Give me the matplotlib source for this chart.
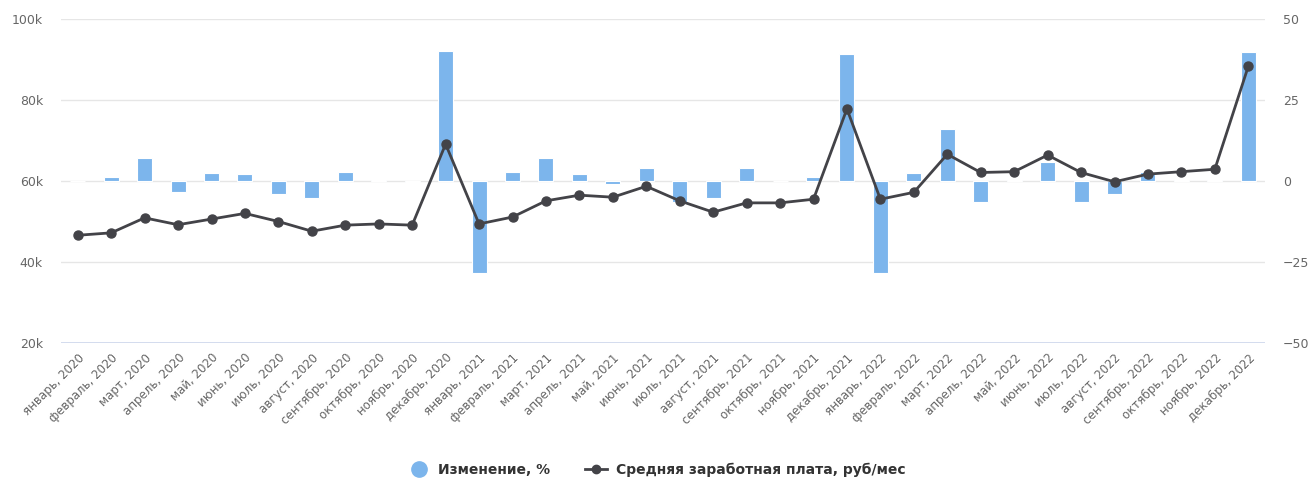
import matplotlib.pyplot as plt
from matplotlib.lines import Line2D
import numpy as np

months = ["январь", "февраль", "март", "апрель", "май", "июнь", "июль",
          "август", "сентябрь", "октябрь", "ноябрь", "декабрь"]
years = [2020, 2021, 2022]
labels = [f"{m}, {y}" for y in years for m in months]

# средняя зарплата, тыс. руб/мес
salary = [46.6, 47.2, 50.9, 49.2, 50.6, 52.0, 50.0, 47.6, 49.1, 49.4, 49.1, 69.1,
          49.4, 51.1, 55.1, 56.5, 56.0, 58.7, 55.1, 52.3, 54.6, 54.6, 55.5, 77.8,
          55.5, 57.2, 66.6, 62.1, 62.3, 66.4, 62.1, 59.8, 61.7, 62.3, 62.9, 88.3]
# изменение к предыдущему месяцу, %
change = [0.0, 1.2, 7.1, -3.3, 2.6, 2.2, -3.9, -5.1, 2.9, 0.3, -0.3, 40.0,
          -28.5, 2.9, 7.1, 2.2, -0.8, 4.0, -6.4, -5.1, 4.0, 0.0, 1.3, 39.3,
          -28.5, 2.6, 16.0, -6.6, 0.3, 6.0, -6.6, -3.9, 2.9, 0.4, 0.4, 39.7]

BAR = "#7cb5ec"
LINE = "#434348"
TXT = "#666666"

fig = plt.figure(figsize=(13.13, 4.8), dpi=100)
ax2 = fig.add_axes([61 / 1313, 137 / 480, 1204 / 1313, 324 / 480])
ax = ax2.twinx()

x = np.arange(len(labels))

# столбцы: правая ось
ax2.bar(x, change, width=0.45, color=BAR, edgecolor="white", linewidth=0.8, zorder=2)
ax2.set_ylim(-50, 50)
ax2.set_yticks([-50, -25, 0, 25, 50])
ax2.yaxis.tick_right()
ax2.set_xlim(-0.5, len(labels) - 0.5)

# линия: левая ось
ax.plot(x, [v * 1000 for v in salary], color=LINE, lw=2, marker="o", ms=6.5, zorder=3)
ax.set_ylim(20000, 100000)
ax.set_yticks([20000, 40000, 60000, 80000, 100000])
ax.set_yticklabels(["20k", "40k", "60k", "80k", "100k"])
ax.yaxis.tick_left()

# сетка
for yv in [40000, 60000, 80000, 100000]:
    ax2.axhline((yv - 60000) / 800, color="#e6e6e6", lw=1, zorder=0)
ax2.axhline(-50, color="#ccd6eb", lw=1.2, zorder=0)

ax.set_zorder(ax2.get_zorder() + 1)
ax.patch.set_visible(False)

for a in (ax, ax2):
    for s in a.spines.values():
        s.set_visible(False)
    a.tick_params(axis="y", length=0, labelsize=9, labelcolor=TXT, pad=13)

ax2.set_xticks(x)
ax2.set_xticklabels(labels, rotation=45, ha="right", rotation_mode="anchor",
                    fontsize=8.5, color=TXT)
ax2.tick_params(axis="x", length=0, pad=6)

handles = [
    Line2D([], [], ls="none", marker="o", ms=11, color=BAR),
    Line2D([], [], color=LINE, lw=2, marker="o", ms=6),
]
fig.legend(handles, ["Изменение, %", "Средняя заработная плата, руб/мес"],
           loc="center", bbox_to_anchor=(0.5, 1 - 470 / 480), ncol=2, frameon=False,
           prop={"weight": "bold", "size": 10}, labelcolor="#333333",
           handlelength=1.6, columnspacing=2.5, handletextpad=0.6)

fig.savefig("out.png", dpi=100)
